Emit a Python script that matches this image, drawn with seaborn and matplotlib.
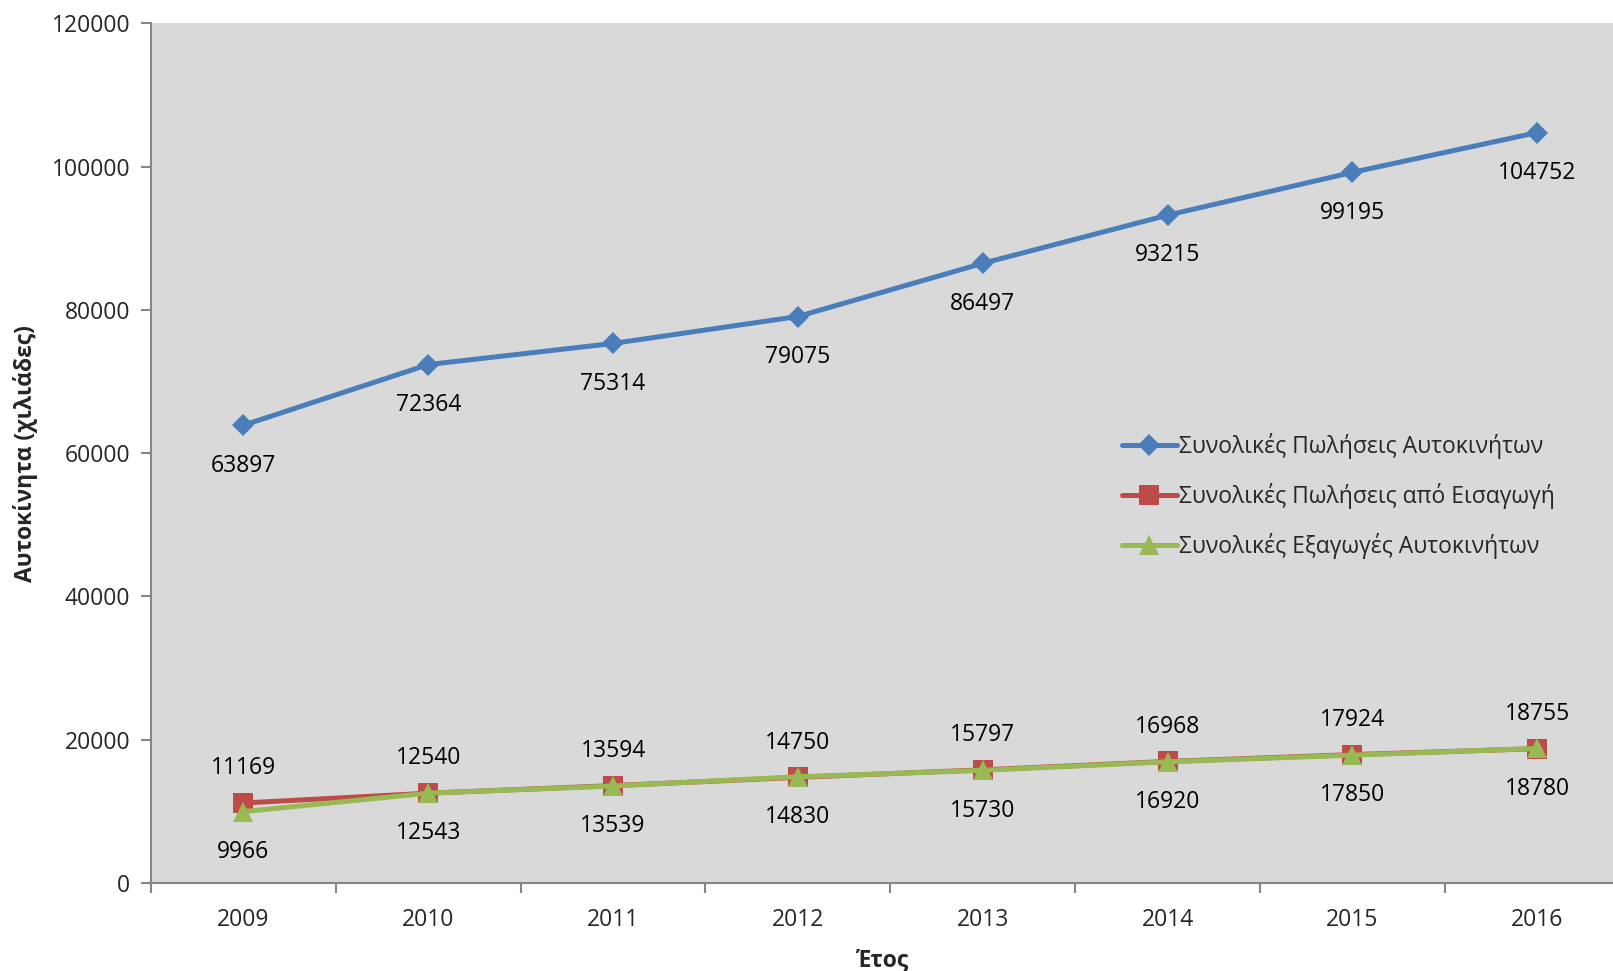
import seaborn as sns
import matplotlib.pyplot as plt
import pandas as pd
from matplotlib.ticker import FixedLocator, NullFormatter

years = ['2009', '2010', '2011', '2012', '2013', '2014', '2015', '2016']
sales_total = [63897, 72364, 75314, 79075, 86497, 93215, 99195, 104752]
sales_import = [11169, 12540, 13594, 14750, 15797, 16968, 17924, 18755]
exports = [9966, 12543, 13539, 14830, 15730, 16920, 17850, 18780]

names = ['Συνολικές Πωλήσεις Αυτοκινήτων',
         'Συνολικές Πωλήσεις από Εισαγωγή',
         'Συνολικές Εξαγωγές Αυτοκινήτων']
colors = ['#4A7EBB', '#BE4B48', '#98B954']
markers = ['D', 's', '^']
msizes = [11, 14, 15]
label_offsets = [-29, 25, -29]

df = pd.DataFrame({'Έτος': years, names[0]: sales_total,
                   names[1]: sales_import, names[2]: exports})

sns.set_theme(style='white')
plt.rcParams['font.family'] = ['Open Sans', 'DejaVu Sans']

fig = plt.figure(figsize=(16.13, 9.71), dpi=100)
ax = fig.add_axes([0.0936, 0.0906, 0.9064, 0.8854])
ax.set_facecolor('#D9D9D9')

for name, c, m, ms, off in zip(names, colors, markers, msizes, label_offsets):
    sns.lineplot(data=df, x='Έτος', y=name, ax=ax, color=c, marker=m,
                 markersize=ms, markeredgewidth=0, linewidth=3.6, label=name,
                 sort=False)
    for i, v in enumerate(df[name]):
        ax.annotate(str(v), (i, v), xytext=(0, off), textcoords='offset points',
                    ha='center', va='center', fontsize=16.5, color='black')

ax.set_xlim(-0.5, 7.41)
ax.set_ylim(0, 120000)
ax.set_yticks(range(0, 120001, 20000))
ax.xaxis.set_minor_locator(FixedLocator([i - 0.5 for i in range(8)]))
ax.xaxis.set_minor_formatter(NullFormatter())
ax.tick_params(axis='x', which='major', length=0, pad=18, labelsize=16.5)
ax.tick_params(axis='x', which='minor', length=7, width=1.5, color='#868686',
               direction='out', bottom=True)
ax.tick_params(axis='y', length=7, width=1.5, color='#868686', direction='out',
               left=True, labelsize=16.5, pad=8)

for s in ['top', 'right']:
    ax.spines[s].set_visible(False)
for s in ['left', 'bottom']:
    ax.spines[s].set_color('#868686')
    ax.spines[s].set_linewidth(1.5)

ax.set_xlabel('Έτος', fontsize=16.5, fontweight='bold', labelpad=12)
ax.set_ylabel('Αυτοκίνητα (χιλιάδες)', fontsize=16.5, fontweight='bold', labelpad=10)

leg = ax.legend(loc='center left', bbox_to_anchor=(0.65, 0.45), frameon=False,
                fontsize=16.5, handlelength=2.4, handletextpad=0.1,
                labelspacing=1.05)

fig.savefig('out.png', dpi=100)
